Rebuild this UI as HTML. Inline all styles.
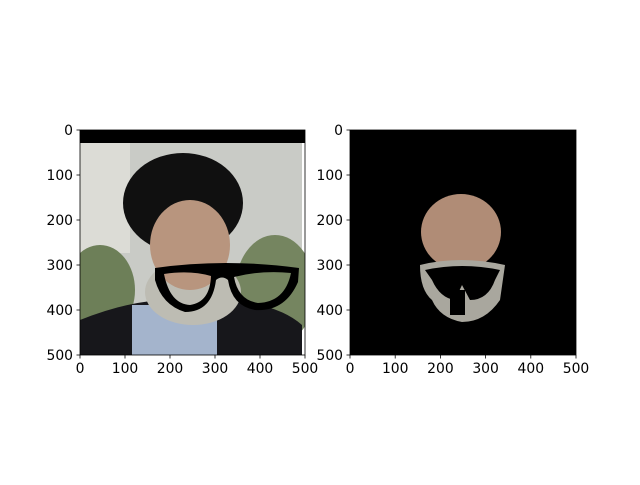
<!DOCTYPE html>
<html><head><meta charset="utf-8"><style>
html,body{margin:0;padding:0;background:#fff;}
text{font-family:"DejaVu Sans","Liberation Sans",sans-serif;font-size:13.9px;fill:#000;}
</style></head><body>
<svg id="fig" width="640" height="480" viewBox="0 0 640 480" xmlns="http://www.w3.org/2000/svg">
<defs>
<clipPath id="c1"><rect x="80" y="130" width="225" height="225"/></clipPath>
<clipPath id="c2"><rect x="350" y="130" width="226" height="225"/></clipPath>
</defs>
<g clip-path="url(#c1)">
  <rect x="80" y="130" width="225" height="225" fill="#fff"/>
  <rect x="80" y="143" width="222" height="212" fill="#c9cbc6"/>
  <rect x="80" y="143" width="50" height="110" fill="#dcdcd6"/>
  <rect x="80" y="130" width="225" height="13" fill="#000"/>
  <ellipse cx="100" cy="290" rx="35" ry="45" fill="#6d7f58"/>
  <ellipse cx="275" cy="290" rx="40" ry="55" fill="#758560"/>
  <path d="M80 320 Q130 300 170 300 L230 300 Q280 305 302 325 L302 355 L80 355 Z" fill="#17171b"/>
  <rect x="132" y="305" width="85" height="50" fill="#a4b4cc"/>
  <ellipse cx="193" cy="292" rx="48" ry="33" fill="#bdbcb3"/>
  <ellipse cx="183" cy="203" rx="60" ry="50" fill="#101010"/>
  <ellipse cx="190" cy="245" rx="40" ry="45" fill="#b8957e"/>
  <path d="M155 268 Q225 258 299 268 L298 282 Q285 312 255 310 Q232 306 228 280 Q222 275 216 280 Q212 312 185 312 Q162 305 155 280 Z M164 274 Q170 304 190 305 Q210 302 211 276 Q190 270 164 274 Z M234 277 Q238 300 258 303 Q285 302 291 273 Q262 270 234 277 Z" fill="#000" fill-rule="evenodd"/>
</g>
<g clip-path="url(#c2)">
  <rect x="350" y="130" width="226" height="225" fill="#000"/>
  <ellipse cx="461" cy="232" rx="40" ry="38" fill="#b08c76"/>
  <path d="M420 265 Q460 255 505 265 L500 300 Q485 322 462 322 Q440 318 432 300 Q420 290 420 265 Z" fill="#a9a79e"/>
  <path d="M425 270 Q462 262 500 270 L495 280 Q488 300 470 300 L462 285 L455 300 Q440 298 432 280 Z" fill="#000"/>
  <rect x="450" y="290" width="15" height="25" fill="#000"/>
</g>
<g id="axes"></g>
<script>
const ticks=[0,100,200,300,400,500];
const tickLabels=["0","100","200","300","400","500"];
const panels=[{x0:80,y0:130,w:225,h:225,name:'left'},{x0:350,y0:130,w:226,h:225,name:'right'}];
const g=document.getElementById('axes');
const NS='http://www.w3.org/2000/svg';
function mk(t,a){const e=document.createElementNS(NS,t);for(const k in a)e.setAttribute(k,a[k]);g.appendChild(e);return e;}
panels.forEach(p=>{
  const sx=v=>p.x0+v/500*p.w, sy=v=>p.y0+v/500*p.h;
  const r=mk('rect',{x:p.x0,y:p.y0,width:p.w,height:p.h,fill:'none',stroke:'#000','stroke-width':0.8});
  
  
  ticks.forEach((v,i)=>{
    mk('line',{x1:sx(v),x2:sx(v),y1:p.y0+p.h,y2:p.y0+p.h+3.5,stroke:'#000','stroke-width':0.8});
    const tx=mk('text',{x:sx(v),y:p.y0+p.h+18,'text-anchor':'middle'});tx.textContent=tickLabels[i];
    
    
    mk('line',{x1:p.x0-3.5,x2:p.x0,y1:sy(v),y2:sy(v),stroke:'#000','stroke-width':0.8});
    const ty=mk('text',{x:p.x0-7,y:sy(v)+5,'text-anchor':'end'});ty.textContent=tickLabels[i];
    
    
  });
});
</script>
</svg>
</body></html>
